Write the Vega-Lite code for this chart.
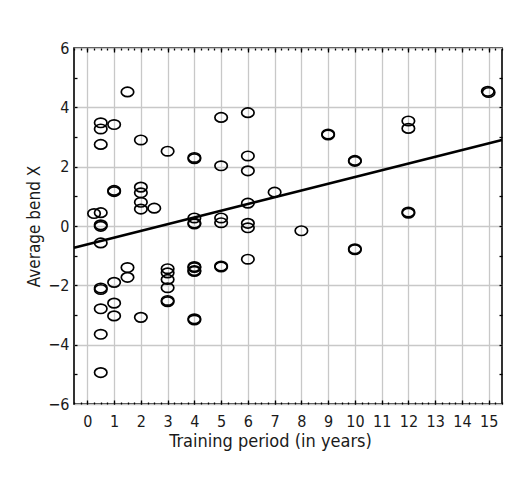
{
  "$schema": "https://vega.github.io/schema/vega-lite/v6.json",
  "width": 428,
  "height": 356,
  "autosize": {"type": "none"},
  "padding": {"left": 74, "top": 48, "right": 3, "bottom": 80},
  "background": "white",
  "config": {
    "view": {"stroke": "black", "strokeWidth": 1.6},
    "font": "'DejaVu Sans Condensed', sans-serif",
    "axis": {
      "labelFont": "'DejaVu Sans Condensed', sans-serif",
      "titleFont": "'DejaVu Sans Condensed', sans-serif",
      "labelColor": "#1a1a1a",
      "titleColor": "#1a1a1a",
      "titleFontWeight": "normal",
      "labelFontSize": 16,
      "titleFontSize": 17,
      "domain": false,
      "gridColor": "#c8c8c8",
      "gridWidth": 1.3,
      "gridOpacity": 1,
      "tickColor": "black",
      "tickWidth": 1.3
    }
  },
  "datasets": {
    "pts": [
      {"years": 0.25, "bend": 0.42},
      {"years": 0.5, "bend": 3.48}, {"years": 0.5, "bend": 3.27}, {"years": 0.5, "bend": 2.75},
      {"years": 0.5, "bend": 0.45}, {"years": 0.5, "bend": 0.04}, {"years": 0.5, "bend": -0.01},
      {"years": 0.5, "bend": -0.57}, {"years": 0.5, "bend": -2.09}, {"years": 0.5, "bend": -2.14},
      {"years": 0.5, "bend": -2.79}, {"years": 0.5, "bend": -3.65}, {"years": 0.5, "bend": -4.94},
      {"years": 1, "bend": 3.42}, {"years": 1, "bend": 1.2}, {"years": 1, "bend": 1.16},
      {"years": 1, "bend": -1.9}, {"years": 1, "bend": -2.6}, {"years": 1, "bend": -3.03},
      {"years": 1.5, "bend": 4.52}, {"years": 1.5, "bend": -1.4}, {"years": 1.5, "bend": -1.73},
      {"years": 2, "bend": 2.9}, {"years": 2, "bend": 1.31}, {"years": 2, "bend": 1.12},
      {"years": 2, "bend": 0.8}, {"years": 2, "bend": 0.57}, {"years": 2, "bend": -3.08},
      {"years": 2.5, "bend": 0.6},
      {"years": 3, "bend": 2.52}, {"years": 3, "bend": -1.44}, {"years": 3, "bend": -1.58},
      {"years": 3, "bend": -1.8}, {"years": 3, "bend": -2.08}, {"years": 3, "bend": -2.51}, {"years": 3, "bend": -2.55},
      {"years": 4, "bend": 2.31}, {"years": 4, "bend": 2.27}, {"years": 4, "bend": 0.27},
      {"years": 4, "bend": 0.1}, {"years": 4, "bend": 0.07}, {"years": 4, "bend": -1.37},
      {"years": 4, "bend": -1.4}, {"years": 4, "bend": -1.5}, {"years": 4, "bend": -1.53},
      {"years": 4, "bend": -3.13}, {"years": 4, "bend": -3.17},
      {"years": 5, "bend": 3.66}, {"years": 5, "bend": 2.03}, {"years": 5, "bend": 0.27},
      {"years": 5, "bend": 0.11}, {"years": 5, "bend": -1.35}, {"years": 5, "bend": -1.38},
      {"years": 6, "bend": 3.82}, {"years": 6, "bend": 2.36}, {"years": 6, "bend": 1.86},
      {"years": 6, "bend": 0.77}, {"years": 6, "bend": 0.09}, {"years": 6, "bend": -0.06}, {"years": 6, "bend": -1.12},
      {"years": 7, "bend": 1.14}, {"years": 8, "bend": -0.16},
      {"years": 9, "bend": 3.1}, {"years": 9, "bend": 3.07},
      {"years": 10, "bend": 2.21}, {"years": 10, "bend": 2.18}, {"years": 10, "bend": -0.77}, {"years": 10, "bend": -0.8},
      {"years": 12, "bend": 3.54}, {"years": 12, "bend": 3.29}, {"years": 12, "bend": 0.47}, {"years": 12, "bend": 0.43},
      {"years": 14.97, "bend": 4.54}, {"years": 15, "bend": 4.5}
    ],
    "fit": [
      {"years": -0.5, "bend": -0.73},
      {"years": 15.5, "bend": 2.9}
    ]
  },
  "layer": [
    {
      "data": {"name": "fit"},
      "mark": {"type": "line", "color": "black", "strokeWidth": 2.6},
      "encoding": {
        "x": {"field": "years", "type": "quantitative",
          "scale": {"domain": [-0.5, 15.5], "nice": false, "zero": false},
          "axis": {"orient": "bottom", "values": [0,1,2,3,4,5,6,7,8,9,10,11,12,13,14,15],
            "ticks": false, "grid": true, "labelPadding": 9, "labelFlush": false,
            "title": "Training period (in years)", "titleY": 28, "titleBaseline": "top",
            "titleX": 196, "titleAnchor": "start", "titleAlign": "center", "titleFontSize": 18}},
        "y": {"field": "bend", "type": "quantitative",
          "scale": {"domain": [-6, 6], "nice": false, "zero": false},
          "axis": {"orient": "left", "values": [-6,-4,-2,0,2,4,6],
            "ticks": false, "grid": true, "labelPadding": 5, "labelFlush": false,
            "labelExpr": "replace(datum.label, '-', '\u2212')",
            "title": "Average bend X", "titleX": -31}}
      }
    },
    {
      "data": {"name": "pts"},
      "mark": {"type": "point",
        "shape": "M-1,0C-1,-0.42,-0.55,-0.76,0,-0.76C0.55,-0.76,1,-0.42,1,0C1,0.42,0.55,0.76,0,0.76C-0.55,0.76,-1,0.42,-1,0Z",
        "size": 155, "stroke": "black", "strokeWidth": 1.7, "filled": false, "opacity": 1},
      "encoding": {
        "x": {"field": "years", "type": "quantitative",
          "axis": {"orient": "bottom", "values": [0,1,2,3,4,5,6,7,8,9,10,11,12,13,14,15],
            "labels": false, "grid": false, "tickSize": -4, "title": null}},
        "y": {"field": "bend", "type": "quantitative",
          "axis": {"orient": "left", "values": [-5,-4,-3,-2,-1,0,1,2,3,4,5],
            "labels": false, "grid": false, "tickSize": -3, "title": null}}
      }
    },
    {
      "data": {"name": "fit"},
      "mark": {"type": "point", "opacity": 0},
      "encoding": {
        "x": {"field": "years", "type": "quantitative",
          "axis": {"orient": "top", "values": [0,1,2,3,4,5,6,7,8,9,10,11,12,13,14,15],
            "labels": false, "grid": false, "tickSize": -4, "title": null}},
        "y": {"field": "bend", "type": "quantitative",
          "axis": {"orient": "right", "values": [-5,-4,-3,-2,-1,0,1,2,3,4,5],
            "labels": false, "grid": false, "tickSize": -3, "title": null}}
      }
    },
    {
      "data": {"name": "fit"},
      "mark": {"type": "point", "opacity": 0},
      "encoding": {
        "x": {"field": "years", "type": "quantitative",
          "axis": {"orient": "bottom", "values": [-0.5,-0.25,0,0.25,0.5,0.75,1,1.25,1.5,1.75,2,2.25,2.5,2.75,3,3.25,3.5,3.75,4,4.25,4.5,4.75,5,5.25,5.5,5.75,6,6.25,6.5,6.75,7,7.25,7.5,7.75,8,8.25,8.5,8.75,9,9.25,9.5,9.75,10,10.25,10.5,10.75,11,11.25,11.5,11.75,12,12.25,12.5,12.75,13,13.25,13.5,13.75,14,14.25,14.5,14.75,15,15.25,15.5],
            "labels": false, "grid": false, "tickSize": -2, "title": null}},
        "y": {"field": "bend", "type": "quantitative", "axis": null}
      }
    },
    {
      "data": {"name": "fit"},
      "mark": {"type": "point", "opacity": 0},
      "encoding": {
        "x": {"field": "years", "type": "quantitative",
          "axis": {"orient": "top", "values": [-0.5,-0.25,0,0.25,0.5,0.75,1,1.25,1.5,1.75,2,2.25,2.5,2.75,3,3.25,3.5,3.75,4,4.25,4.5,4.75,5,5.25,5.5,5.75,6,6.25,6.5,6.75,7,7.25,7.5,7.75,8,8.25,8.5,8.75,9,9.25,9.5,9.75,10,10.25,10.5,10.75,11,11.25,11.5,11.75,12,12.25,12.5,12.75,13,13.25,13.5,13.75,14,14.25,14.5,14.75,15,15.25,15.5],
            "labels": false, "grid": false, "tickSize": -2, "title": null}},
        "y": {"field": "bend", "type": "quantitative", "axis": null}
      }
    }
  ],
  "resolve": {"axis": {"x": "independent", "y": "independent"}}
}
